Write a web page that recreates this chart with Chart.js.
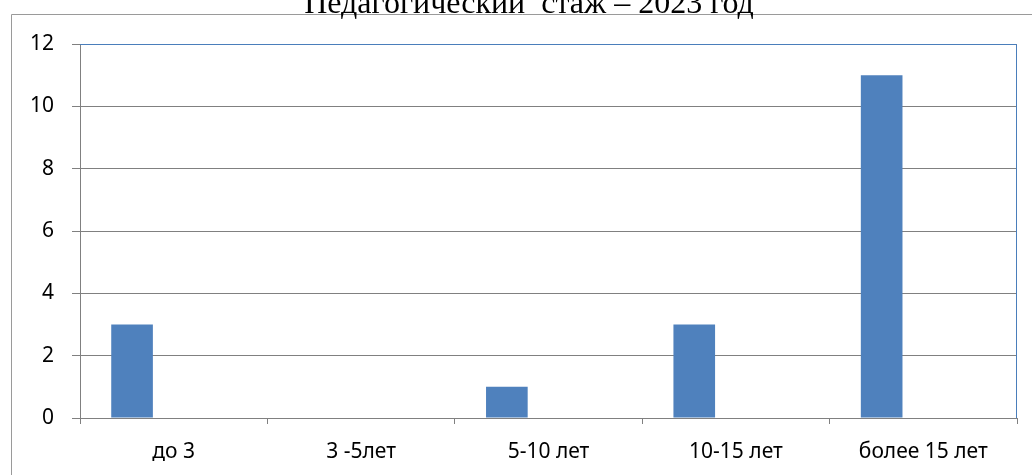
<!DOCTYPE html>
<html>
<head>
<meta charset="utf-8">
<script src="https://cdn.jsdelivr.net/npm/chart.js@4/dist/chart.umd.min.js"></script>
<style>
  html, body { margin: 0; padding: 0; background: #fff; }
  #wrap { width: 1032px; height: 475px; position: relative; }
</style>
</head>
<body>
<div id="wrap"><canvas id="myChart"></canvas></div>
<script>
// data
var categories = ['до 3', '3 -5лет', '5-10 лет', '10-15 лет', 'более 15 лет'];
var staff = [3, 0, 1, 3, 11];
var empty1 = [0, 0, 0, 0, 0]; // excel keeps two empty series next to the first one
var empty2 = [0, 0, 0, 0, 0];
var yTicks = [0, 2, 4, 6, 8, 10, 12];
var chartTitle = 'Педагогический  стаж – 2023 год';

var gridGrey = '#808080';
var plotBlue = '#4a7ebb';

// outer frame + cut off title + blue plot border
var frame = {
  id: 'frame',
  beforeDraw: function(chart){
    var ctx = chart.ctx;
    ctx.save();
    ctx.strokeStyle = '#9a9a9a';
    ctx.lineWidth = 1;
    ctx.beginPath();
    ctx.moveTo(11.5, 480);
    ctx.lineTo(11.5, 14.5);
    ctx.lineTo(1040, 14.5);
    ctx.stroke();
    ctx.fillStyle = '#000';
    ctx.font = '32px "Liberation Serif"';
    ctx.textAlign = 'center';
    ctx.textBaseline = 'alphabetic';
    ctx.fillText(chartTitle, 529, 13);
    ctx.restore();
  },
  afterDatasetsDraw: function(chart){
    var a = chart.chartArea;
    var ctx = chart.ctx;
    ctx.save();
    ctx.strokeStyle = plotBlue;
    ctx.lineWidth = 1;
    ctx.beginPath();
    ctx.moveTo(a.left, a.top + 0.5);
    ctx.lineTo(a.right - 0.5, a.top + 0.5);
    ctx.lineTo(a.right - 0.5, a.bottom);
    ctx.stroke();
    ctx.restore();
  }
};

var ctx = document.getElementById('myChart').getContext('2d');
var myChart = new Chart(ctx, {
  type: 'bar',
  data: {
    labels: categories,
    datasets: [
      { label: 'Ряд 1', data: staff, backgroundColor: '#4f81bd' },
      { label: 'Ряд 2', data: empty1, backgroundColor: '#c0504d' },
      { label: 'Ряд 3', data: empty2, backgroundColor: '#9bbb59' }
    ]
  },
  options: {
    responsive: true,
    maintainAspectRatio: false,
    animation: false,
    categoryPercentage: 2 / 3,
    barPercentage: 1,
    layout: { padding: { left: 0, top: 44, right: 15, bottom: 0 } },
    plugins: {
      legend: { display: false },
      tooltip: { enabled: false }
    },
    scales: {
      x: {
        offset: true,
        grid: { offset: true, drawOnChartArea: false, drawTicks: true, tickLength: 6, color: gridGrey },
        border: { color: gridGrey },
        ticks: { color: '#000', padding: 15, font: { family: '"Noto Sans"', size: 21 } },
        afterFit: function(s){ s.height = 57; }
      },
      y: {
        min: 0,
        max: 12,
        afterBuildTicks: function(s){ s.ticks = yTicks.map(function(v){ return { value: v }; }); },
        grid: { color: gridGrey, tickLength: 8 },
        border: { color: gridGrey },
        ticks: { color: '#000', padding: 18, font: { family: '"Noto Sans"', size: 21 } },
        afterFit: function(s){ s.width = 80; }
      }
    }
  },
  plugins: [frame]
});
</script>
</body>
</html>
